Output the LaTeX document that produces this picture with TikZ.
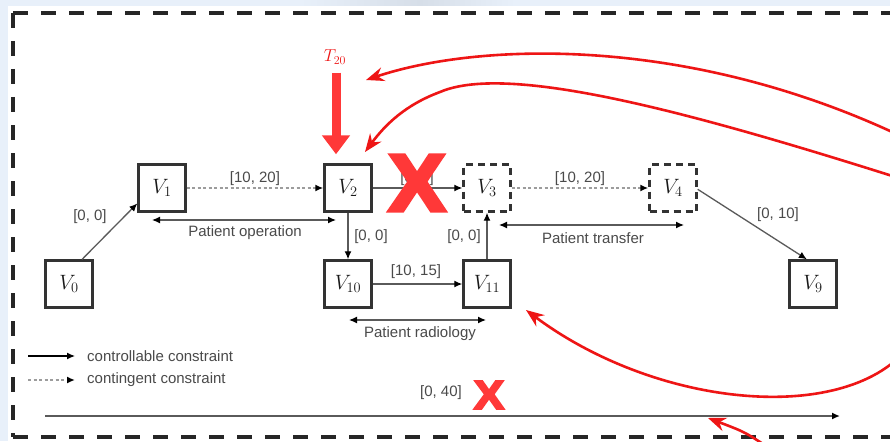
\documentclass[tikz,border=0pt]{standalone}
\usepackage[no-math]{fontspec}
\newfontfamily\sansfont{Liberation Sans}
\newfontfamily\xmark{Liberation Sans Bold}[FakeBold=5]
\usetikzlibrary{arrows.meta,calc}

\definecolor{bgblue}{HTML}{E8F0FA}
\definecolor{bgdark}{HTML}{D6DEE8}
\definecolor{redx}{HTML}{FF3838}
\definecolor{curvered}{HTML}{EE1515}
\definecolor{edgegray}{HTML}{5A5A5A}
\definecolor{labelgray}{HTML}{4A4A4A}
\definecolor{boxgray}{HTML}{333333}

\begin{document}
\begin{tikzpicture}[x=1pt,y=-1pt,
  vbox/.style={draw=boxgray, line width=2.4pt, fill=white, minimum size=47pt,
    inner sep=0pt, font=\fontsize{21}{22}\selectfont, text=black!90},
  vdash/.style={vbox, dash pattern=on 7pt off 5pt},
  lbl/.style={font=\sansfont\fontsize{15}{16}\selectfont, text=labelgray, inner sep=1pt},
  tipk/.tip={Latex[length=8pt,width=7pt,color=black]},
  ctrl/.style={draw=edgegray, line width=1.3pt, -tipk},
  cont/.style={draw=edgegray!60, line width=1.8pt, dash pattern=on 3pt off 2.5pt, -tipk},
  spanarrow/.style={draw=edgegray, line width=1.3pt, tipk-tipk},
  redarc/.style={draw=curvered, line width=2.6pt, -{Stealth[length=18pt,width=14pt,inset=6pt]}},
  bigx/.style={font=\xmark\fontsize{80}{80}\selectfont, text=redx, inner sep=0pt, xscale=1.05},
  smallx/.style={font=\xmark\fontsize{40}{40}\selectfont, text=redx, inner sep=0pt, xscale=1.12},
  frame/.style={draw=black!85, line width=4pt, dash pattern=on 15pt off 13pt}
]
\useasboundingbox (0,0) rectangle (890,441);
\clip (0,0) rectangle (890,441);

% page background
\fill[bgblue] (0,0) rectangle (890,441);
\shade[left color=bgblue, right color=bgdark] (300,0) rectangle (420,7);
\shade[left color=bgdark, right color=bgblue] (420,0) rectangle (515,7);
\fill[white] (8,6) rectangle (890,441);

% dashed frame, open on the right
\draw[frame] (13,13) -- (900,13);
\draw[frame] (13,13) -- (13,437);
\draw[frame] (13,437) -- (900,437);

% event nodes
\node[vbox]  (V0)  at (69,284)  {$V_0$};
\node[vbox]  (V1)  at (162,188) {$V_1$};
\node[vbox]  (V2)  at (348,188) {$V_2$};
\node[vdash] (V3)  at (487,188) {$V_3$};
\node[vdash] (V4)  at (673,188) {$V_4$};
\node[vbox]  (V10) at (348,284) {$V_{10}$};
\node[vbox]  (V11) at (487,284) {$V_{11}$};
\node[vbox]  (V9)  at (813,284) {$V_9$};

% constraints
\draw[ctrl] (V0.62) -- (V1.212);
\draw[cont] (V1.east) -- (V2.west);
\draw[ctrl] (V2.east) -- (V3.west);
\draw[cont] (V3.east) -- (V4.west);
\draw[ctrl] (V4.-3) -- (V9.104);
\draw[ctrl] (V2.south) -- (V10.north);
\draw[ctrl] (V10.east) -- (V11.west);
\draw[ctrl] (V11.north) -- (V3.south);

\node[lbl] (l01)  at (90,217)  {[0, 0]};
\node[lbl] (l12)  at (255,179) {[10, 20]};
\node[lbl] (l23)  at (417,179) {[0, 0]};
\node[lbl] (l34)  at (580,179) {[10, 20]};
\node[lbl] (l49)  at (778,215) {[0, 10]};
\node[lbl] (l210) at (371,237) {[0, 0]};
\node[lbl] (l113) at (464,237) {[0, 0]};
\node[lbl] (l1011) at (416,272) {[10, 15]};

% activity spans
\coordinate (opL) at (152,220);
\coordinate (opR) at (336,220);
\draw[spanarrow] (opL) -- (opR);
\node[lbl] (opT) at (245,233) {Patient operation};

\coordinate (trL) at (499,225);
\coordinate (trR) at (684,225);
\draw[spanarrow] (trL) -- (trR);
\node[lbl] (trT) at (593,238) {Patient transfer};

\coordinate (raL) at (349,320);
\coordinate (raR) at (486,320);
\draw[spanarrow] (raL) -- (raR);
\node[lbl] (raT) at (420,334) {Patient radiology};

% legend
\coordinate (lgA1) at (28,356);
\coordinate (lgA2) at (75,356);
\coordinate (lgB1) at (28,380);
\coordinate (lgB2) at (75,380);
\draw[ctrl, draw=black] (lgA1) -- (lgA2);
\draw[cont] (lgB1) -- (lgB2);
\node[lbl, anchor=west] (lgAT) at (86,356) {controllable constraint};
\node[lbl, anchor=west] (lgBT) at (86,380) {contingent constraint};

% overall deadline
\coordinate (dlL) at (45,416);
\coordinate (dlR) at (840,416);
\draw[ctrl, line width=1.8pt] (dlL) -- (dlR);
\node[lbl] (dlT) at (441,393) {[0, 40]};
\node[smallx] (dlX) at (489,395) {X};

% removed constraint
\node[bigx] (bigX) at (417,183) {X};

% new time point
\node[text=curvered, font=\fontsize{17}{18}\selectfont] (T20) at (335,57) {$T_{20}$};
\draw[draw=redx, line width=9pt, -{Triangle[length=19pt,width=27pt]}]
  ($(T20.south)+(1,5)$) -- ($(V2.north)+(-12,-9)$);

% red curved arrows entering from the right
\coordinate (r1s) at (905,138);
\coordinate (r1e) at (366,80);
\draw[redarc] (r1s) .. controls (690,35) and (480,42) .. (r1e);

\coordinate (r2s) at (905,180);
\coordinate (r2m) at (440,92);
\coordinate (r2e) at (365,152);
\draw[redarc] (r2s) .. controls (700,115) and (510,62) .. (r2m)
  .. controls (405,105) and (385,125) .. (r2e);

\coordinate (r3s) at (910,345);
\coordinate (r3e) at (526,310);
\draw[redarc] (r3s) .. controls (850,425) and (660,410) .. (r3e);

\coordinate (r4s) at (772,450);
\coordinate (r4e) at (708,418);
\draw[redarc] (r4s) .. controls (745,432) .. (r4e);
\end{tikzpicture}
\end{document}
